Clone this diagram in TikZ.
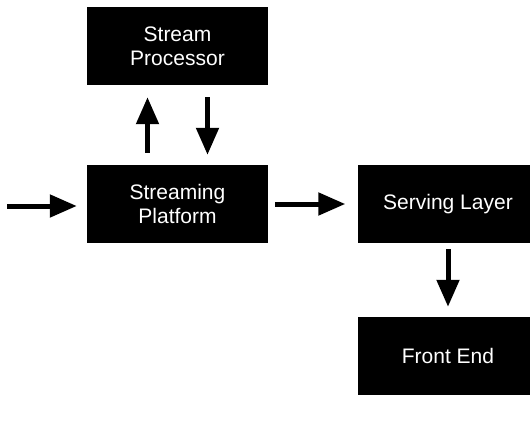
\documentclass[tikz,border=0pt]{standalone}
\usepackage{fontspec}
\setmainfont{Liberation Sans}
\usetikzlibrary{arrows.meta,positioning}

\tikzset{
  block/.style={rectangle,fill=black,draw=none,text=white,align=center,
    minimum width=181pt,minimum height=78pt,inner sep=0pt,
    font=\fontsize{21}{24}\selectfont},
  flow/.style={line width=5pt,-{Triangle[length=27pt,width=22pt]}}
}

\begin{document}
\begin{tikzpicture}[x=1pt,y=-1pt]
\useasboundingbox (0,0) rectangle (530,442);
\clip (0,0) rectangle (530,442);

% Blocks (centres in pixel units, y grows downwards)
\node[block] (proc) at (177.5,46) {Stream\\Processor};
\node[block] (plat) at (177.5,204) {Streaming\\Platform};
\node[block] (serv) at (448,204) {Serving Layer};
\node[block] (front) at (448,356) {Front End};

% Incoming data
\coordinate (in) at (7,206);
\draw[flow,shorten >=10pt] (in) -- (in -| plat.west);

% Platform <-> processor
\draw[flow,shorten <=12pt,shorten >=12pt] ([xshift=-30pt]plat.north) -- ([xshift=-30pt]proc.south);
\draw[flow,shorten <=12pt,shorten >=10pt] ([xshift=30pt]proc.south) -- ([xshift=30pt]plat.north);

% Platform -> serving -> front end
\draw[flow,shorten <=7pt,shorten >=12pt] (plat.east) -- (serv.west);
\draw[flow,shorten <=6pt,shorten >=10pt] (serv.south) -- (front.north);
\end{tikzpicture}
\end{document}
